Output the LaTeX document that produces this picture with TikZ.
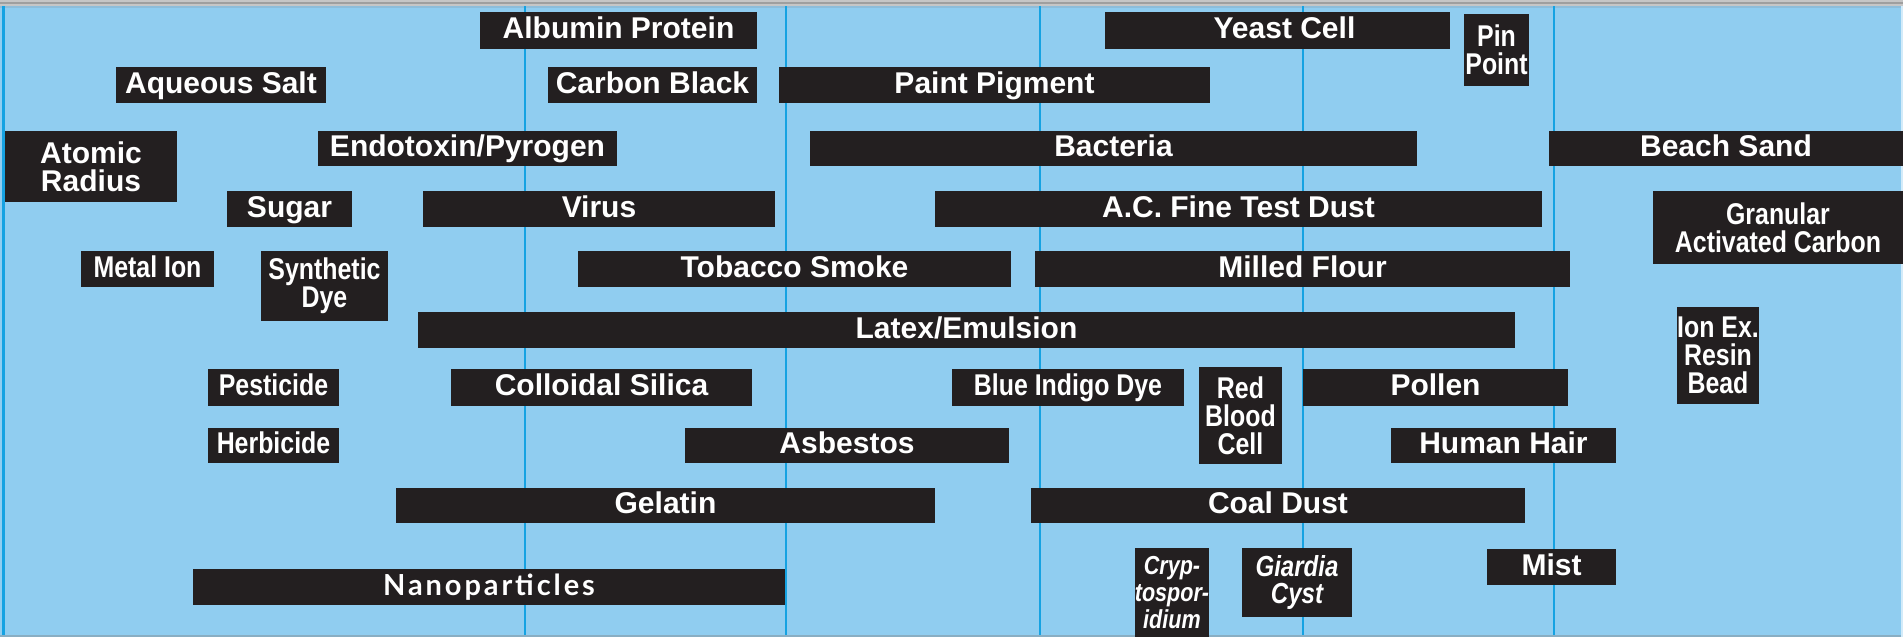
\documentclass[tikz,border=0pt]{standalone}
\usepackage{fontspec}
\setmainfont{Liberation Sans}
\newfontfamily\condfont{Liberation Sans}[FakeStretch=0.83]
\newfontfamily\nanofont{Lato}[LetterSpace=10]
\definecolor{bgblue}{HTML}{90CDF0}
\definecolor{vblue}{HTML}{15A2E2}
\definecolor{boxblack}{HTML}{231F20}
\newcommand\lblbox[7][]{\node[boxsty,minimum width={(#5-#3)*0.5pt},minimum height={(#6-#4)*0.5pt},#1] (#2) at ({(#3+#5)/2},{(#4+#6)/2}) {#7};}
\begin{document}
\begin{tikzpicture}[x=0.5pt,y=-0.5pt,
  boxsty/.style={fill=boxblack,text=white,inner sep=0pt,outer sep=0pt,align=center,
    font=\bfseries\fontsize{15}{14}\selectfont},
  one/.style={text height=10.7pt,text depth=2.4pt},
  cond/.style={font=\condfont\bfseries\fontsize{15}{14}\selectfont},
  condit/.style={font=\condfont\bfseries\itshape\fontsize{14.5}{13.5}\selectfont},
  condsmall/.style={font=\condfont\bfseries\itshape\fontsize{13}{13.5}\selectfont},
  nano/.style={font=\nanofont\bfseries\fontsize{14.5}{14}\selectfont},
  vline/.style={draw=vblue,line width=1.3pt}]
\useasboundingbox (0,0) rectangle (1903,637);
\fill[bgblue] (0,0) rectangle (1903,637);
% top and bottom edges
\fill[gray!45] (0,0) rectangle (1903,6);
\fill[gray!75] (0,1.5) rectangle (1903,4);
\fill[gray!20!bgblue] (0,6) rectangle (1903,7.5);
\fill[gray!40!bgblue] (0,634.5) rectangle (1903,637);
\fill[white!60!bgblue] (1900.5,6) rectangle (1903,637);
% vertical grid lines
\foreach \vx in {525,786,1040,1303,1554}{\draw[vline] (\vx,6) -- (\vx,635);}
\draw[draw=vblue,line width=1.6pt] (3.5,6) -- (3.5,635);
% boxes
\lblbox[one]{albumin}{480}{12}{757}{49}{Albumin Protein}
\lblbox[one]{yeast}{1105}{12}{1450}{49}{\hspace*{7pt}Yeast Cell}
\lblbox[cond]{pin}{1464}{14}{1529}{86}{Pin\\Point}
\lblbox[one]{aqueous}{116}{67}{326}{103}{Aqueous Salt}
\lblbox[one]{carbon}{548}{67}{757}{103}{Carbon Black}
\lblbox[one]{paint}{779}{67}{1210}{103}{Paint Pigment}
\lblbox{atomic}{5}{131}{177}{202}{Atomic\\Radius}
\lblbox[one]{endo}{318}{131}{617}{166}{Endotoxin/Pyrogen}
\lblbox[one]{bacteria}{810}{131}{1417}{166}{Bacteria}
\lblbox[one]{beach}{1549}{131}{1903}{166}{Beach Sand}
\lblbox[one]{sugar}{227}{191}{352}{227}{Sugar}
\lblbox[one]{virus}{423}{191}{775}{227}{Virus}
\lblbox[one]{acdust}{935}{191}{1542}{227}{A.C. Fine Test Dust}
\lblbox[cond]{gac}{1653}{191}{1903}{264}{Granular\\Activated Carbon}
\lblbox[cond,one]{metal}{81}{251}{214}{287}{Metal Ion}
\lblbox[cond]{synth}{261}{251}{388}{321}{Synthetic\\Dye}
\lblbox[one]{tobacco}{578}{251}{1011}{287}{Tobacco Smoke}
\lblbox[one]{flour}{1035}{251}{1570}{287}{Milled Flour}
\lblbox[one]{latex}{418}{312}{1515}{348}{Latex/Emulsion}
\lblbox[cond]{ionex}{1677}{307}{1759}{404}{Ion Ex.\\Resin\\Bead}
\lblbox[cond,one]{pest}{208}{369}{339}{406}{Pesticide}
\lblbox[one]{silica}{451}{369}{752}{406}{Colloidal Silica}
\lblbox[cond,text height=12pt,text depth=4pt]{indigo}{952}{369}{1184}{406}{Blue Indigo Dye}
\lblbox[cond]{rbc}{1199}{367}{1282}{464}{Red\\Blood\\Cell}
\lblbox[one]{pollen}{1303}{369}{1568}{406}{Pollen}
\lblbox[cond,one]{herb}{208}{428}{339}{463}{Herbicide}
\lblbox[one]{asbestos}{685}{428}{1009}{463}{Asbestos}
\lblbox[one]{hair}{1391}{428}{1616}{463}{Human Hair}
\lblbox[one]{gelatin}{396}{488}{935}{523}{Gelatin}
\lblbox[one]{coal}{1031}{488}{1525}{523}{Coal Dust}
\lblbox[nano,one]{nano}{193}{569}{785}{605}{Nanoparticles}
\lblbox[condsmall]{crypto}{1136}{548}{1208}{637}{Cryp-\\tospor-\\idium}
\lblbox[condit]{giardia}{1242}{548}{1352}{617}{Giardia\\Cyst}
\lblbox[one]{mist}{1487}{549}{1616}{585}{Mist}
\end{tikzpicture}
\end{document}
